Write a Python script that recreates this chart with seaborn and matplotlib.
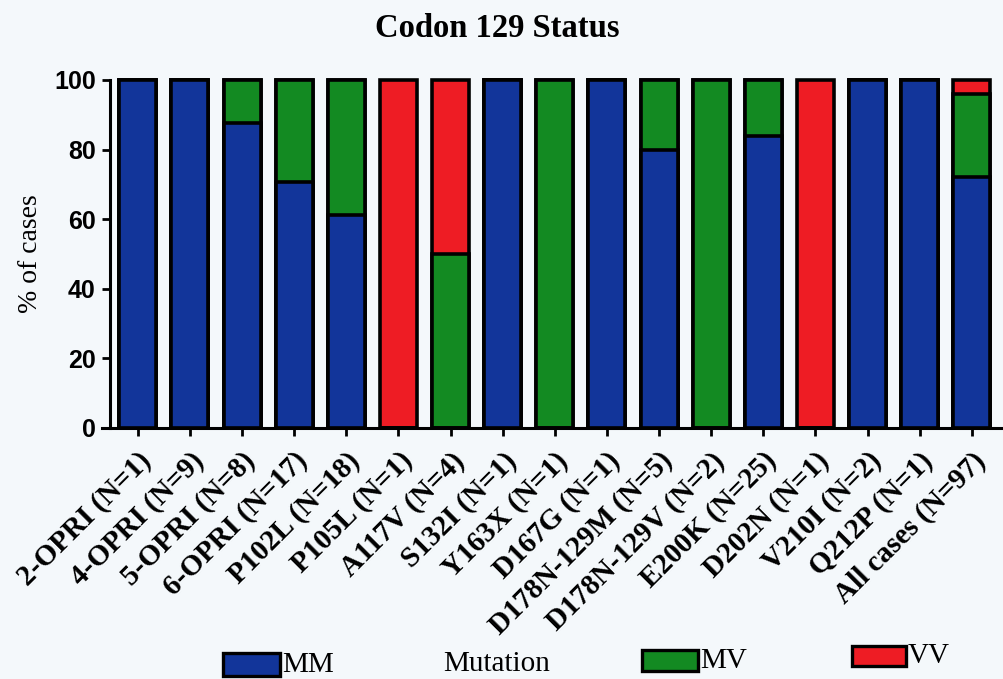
import matplotlib
matplotlib.use("Agg")
import matplotlib.pyplot as plt
from matplotlib.patches import Rectangle
import seaborn as sns
import pandas as pd

# Codon 129 genotype distribution (% of cases) per mutation group
categories = [
    "2-OPRI (N=1)", "4-OPRI (N=9)", "5-OPRI (N=8)", "6-OPRI (N=17)",
    "P102L (N=18)", "P105L (N=1)", "A117V (N=4)", "S132I (N=1)",
    "Y163X (N=1)", "D167G (N=1)", "D178N-129M (N=5)", "D178N-129V (N=2)",
    "E200K (N=25)", "D202N (N=1)", "V210I (N=2)", "Q212P (N=1)",
    "All cases (N=97)",
]
mm = [100, 100, 87.5, 70.6, 61.1, 0, 0, 100, 0, 100, 80, 0, 84, 0, 100, 100, 72.2]
mv = [0, 0, 12.5, 29.4, 38.9, 0, 50, 0, 100, 0, 20, 100, 16, 0, 0, 0, 23.7]
vv = [0, 0, 0, 0, 0, 100, 50, 0, 0, 0, 0, 0, 0, 100, 0, 0, 4.1]

BLUE = "#12359a"
GREEN = "#138a22"
RED = "#ee1c24"
BG = "#f4f8fb"

sns.set_style("ticks")
plt.rcParams["font.family"] = ["Liberation Serif", "DejaVu Serif"]
plt.rcParams.update({"text.color": "black", "axes.labelcolor": "black",
                     "xtick.color": "black", "ytick.color": "black"})

df = pd.DataFrame({"cat": categories, "MM": mm, "MV": mv, "VV": vv})
df["mm_top"] = df["MM"]
df["mv_top"] = df["MM"] + df["MV"]
df["vv_top"] = df["MM"] + df["MV"] + df["VV"]

fig = plt.figure(figsize=(10.04, 6.79), dpi=100, facecolor=BG)
ax = fig.add_axes([0.1014, 0.3697, 0.8956, 0.5125])
ax.set_facecolor(BG)

# Stacked bars: draw cumulative totals from tallest to shortest
bar_kw = dict(edgecolor="black", linewidth=2.6, width=0.71, saturation=1,
              order=categories, ax=ax, clip_on=False, zorder=3)
sns.barplot(data=df, x="cat", y="vv_top", color=RED, **bar_kw)
sns.barplot(data=df, x="cat", y="mv_top", color=GREEN, **bar_kw)
sns.barplot(data=df, x="cat", y="mm_top", color=BLUE, **bar_kw)

n = len(categories)
ax.set_xlim(-0.69, n - 0.44)
ax.set_ylim(0, 100)
ax.set_yticks([0, 20, 40, 60, 80, 100])
ax.spines["top"].set_visible(False)
ax.spines["right"].set_visible(False)
ax.spines["left"].set_position(("data", -0.54))
ax.spines["left"].set_bounds(0, 100)
for s in ("left", "bottom"):
    ax.spines[s].set_linewidth(2.2)
    ax.spines[s].set_color("black")
    ax.spines[s].set_zorder(4)

ax.tick_params(axis="both", direction="out", length=6, width=2, colors="black")
ax.tick_params(axis="y", pad=4)
for lab in ax.get_yticklabels():
    lab.set_fontfamily("Liberation Sans")
    lab.set_fontweight("bold")
    lab.set_fontsize(18)

ax.set_xticks(range(n))
ax.set_xticklabels(categories, rotation=45, ha="right", rotation_mode="anchor",
                   fontsize=21, fontweight="bold")
ax.tick_params(axis="x", pad=8)

ax.set_xlabel("")
ax.set_ylabel("% of cases", fontsize=20, labelpad=8)
fig.text(0.4955, 0.958, "Codon 129 Status", ha="center", va="center",
         fontsize=23.5, fontweight="bold")

# Legend entries along the bottom edge
W, H = 1004.0, 679.0
legend_items = [
    (223, 280, 653, 676, BLUE, "MM"),
    (642, 698, 650, 671, GREEN, "MV"),
    (852, 906, 646, 666, RED, "VV"),
]
for x0, x1, ytop, ybot, col, txt in legend_items:
    fig.add_artist(Rectangle((x0 / W, 1 - ybot / H), (x1 - x0) / W, (ybot - ytop) / H,
                             transform=fig.transFigure, facecolor=col,
                             edgecolor="black", linewidth=2.4))
    fig.text((x1 + 2) / W, 1 - (ytop + ybot) / 2 / H, txt, ha="left",
             va="center", fontsize=21)
fig.text(443 / W, 1 - 664 / H, "Mutation", ha="left", va="center", fontsize=21)

fig.savefig("out.png", dpi=100, facecolor=BG)
